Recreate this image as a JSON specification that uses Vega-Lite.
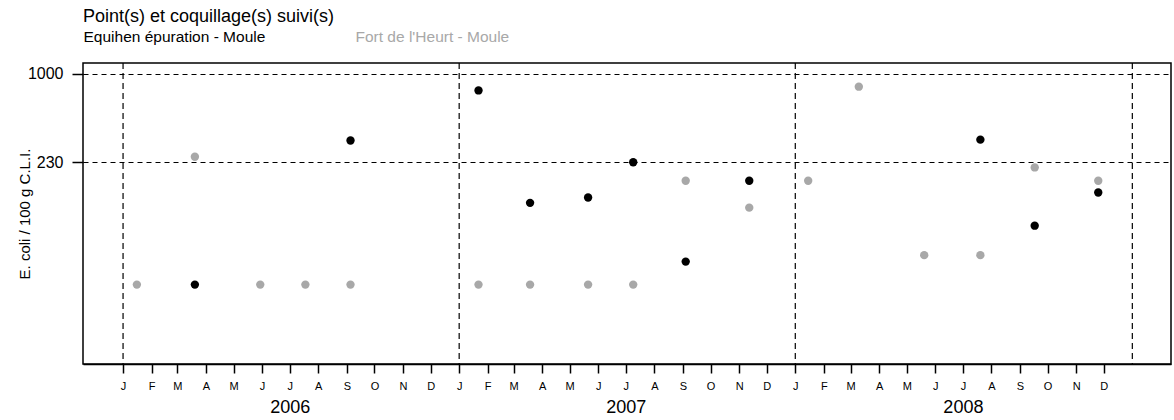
{
  "$schema": "https://vega.github.io/schema/vega-lite/v6.json",
  "width": 1088,
  "height": 301,
  "autosize": "none",
  "padding": {"left": 83, "top": 63, "right": 3, "bottom": 56},
  "background": "white",
  "config": {
    "font": "Liberation Sans",
    "view": {"stroke": "black", "strokeWidth": 1.5}
  },
  "resolve": {"axis": {"x": "independent"}},
  "layer": [
    {
      "data": {"values": [
        {"date": "2006-01-01"}, {"date": "2007-01-01"}, {"date": "2008-01-01"}, {"date": "2009-01-01"}
      ]},
      "mark": {"type": "rule", "color": "black", "strokeDash": [6, 4], "strokeWidth": 1.2},
      "encoding": {
        "x": {
          "field": "date", "type": "temporal",
          "scale": {"type": "utc", "domain": [{"year": 2005, "month": 11, "date": 18, "hours": 12, "utc": true}, {"year": 2009, "month": 2, "date": 12, "utc": true}]},
          "axis": {
            "orient": "bottom",
            "title": null,
            "values": [{"year": 2006, "month": 7, "date": 1, "utc": true}, {"year": 2007, "month": 7, "date": 1, "utc": true}, {"year": 2008, "month": 7, "date": 1, "utc": true}],
            "labelExpr": "utcFormat(datum.value, '%Y')",
            "ticks": false,
            "domain": false,
            "grid": false,
            "labelFontSize": 18,
            "labelColor": "black",
            "labelPadding": 34
          }
        }
      }
    },
    {
      "data": {"values": [
        {"date": "2006-01-16", "value": 30, "series": "Fort de l'Heurt - Moule"},
        {"date": "2006-03-20", "value": 252, "series": "Fort de l'Heurt - Moule"},
        {"date": "2006-05-30", "value": 30, "series": "Fort de l'Heurt - Moule"},
        {"date": "2006-07-18", "value": 30, "series": "Fort de l'Heurt - Moule"},
        {"date": "2006-09-05", "value": 30, "series": "Fort de l'Heurt - Moule"},
        {"date": "2007-01-22", "value": 30, "series": "Fort de l'Heurt - Moule"},
        {"date": "2007-03-19", "value": 30, "series": "Fort de l'Heurt - Moule"},
        {"date": "2007-05-21", "value": 30, "series": "Fort de l'Heurt - Moule"},
        {"date": "2007-07-09", "value": 30, "series": "Fort de l'Heurt - Moule"},
        {"date": "2007-09-04", "value": 169, "series": "Fort de l'Heurt - Moule"},
        {"date": "2007-11-12", "value": 108, "series": "Fort de l'Heurt - Moule"},
        {"date": "2008-01-15", "value": 169, "series": "Fort de l'Heurt - Moule"},
        {"date": "2008-03-10", "value": 809, "series": "Fort de l'Heurt - Moule"},
        {"date": "2008-05-20", "value": 49, "series": "Fort de l'Heurt - Moule"},
        {"date": "2008-07-20", "value": 49, "series": "Fort de l'Heurt - Moule"},
        {"date": "2008-09-17", "value": 211, "series": "Fort de l'Heurt - Moule"},
        {"date": "2008-11-25", "value": 169, "series": "Fort de l'Heurt - Moule"},
        {"date": "2006-03-20", "value": 30, "series": "Equihen épuration - Moule"},
        {"date": "2006-09-05", "value": 330, "series": "Equihen épuration - Moule"},
        {"date": "2007-01-22", "value": 760, "series": "Equihen épuration - Moule"},
        {"date": "2007-03-19", "value": 117, "series": "Equihen épuration - Moule"},
        {"date": "2007-05-21", "value": 128, "series": "Equihen épuration - Moule"},
        {"date": "2007-07-09", "value": 230, "series": "Equihen épuration - Moule"},
        {"date": "2007-09-04", "value": 44, "series": "Equihen épuration - Moule"},
        {"date": "2007-11-12", "value": 169, "series": "Equihen épuration - Moule"},
        {"date": "2008-07-20", "value": 335, "series": "Equihen épuration - Moule"},
        {"date": "2008-09-17", "value": 80, "series": "Equihen épuration - Moule"},
        {"date": "2008-11-25", "value": 139, "series": "Equihen épuration - Moule"}
      ]},
      "mark": {"type": "point", "filled": true, "shape": "circle", "size": 70, "opacity": 1},
      "encoding": {
        "x": {
          "field": "date", "type": "temporal",
          "scale": {"type": "utc", "domain": [{"year": 2005, "month": 11, "date": 18, "hours": 12, "utc": true}, {"year": 2009, "month": 2, "date": 12, "utc": true}]},
          "axis": {
            "orient": "bottom",
            "title": null,
            "values": [
              {"year": 2006, "month": 1, "date": 1, "utc": true}, {"year": 2006, "month": 2, "date": 1, "utc": true}, {"year": 2006, "month": 3, "date": 1, "utc": true}, {"year": 2006, "month": 4, "date": 1, "utc": true}, {"year": 2006, "month": 5, "date": 1, "utc": true}, {"year": 2006, "month": 6, "date": 1, "utc": true}, {"year": 2006, "month": 7, "date": 1, "utc": true}, {"year": 2006, "month": 8, "date": 1, "utc": true}, {"year": 2006, "month": 9, "date": 1, "utc": true}, {"year": 2006, "month": 10, "date": 1, "utc": true}, {"year": 2006, "month": 11, "date": 1, "utc": true}, {"year": 2006, "month": 12, "date": 1, "utc": true},
              {"year": 2007, "month": 1, "date": 1, "utc": true}, {"year": 2007, "month": 2, "date": 1, "utc": true}, {"year": 2007, "month": 3, "date": 1, "utc": true}, {"year": 2007, "month": 4, "date": 1, "utc": true}, {"year": 2007, "month": 5, "date": 1, "utc": true}, {"year": 2007, "month": 6, "date": 1, "utc": true}, {"year": 2007, "month": 7, "date": 1, "utc": true}, {"year": 2007, "month": 8, "date": 1, "utc": true}, {"year": 2007, "month": 9, "date": 1, "utc": true}, {"year": 2007, "month": 10, "date": 1, "utc": true}, {"year": 2007, "month": 11, "date": 1, "utc": true}, {"year": 2007, "month": 12, "date": 1, "utc": true},
              {"year": 2008, "month": 1, "date": 1, "utc": true}, {"year": 2008, "month": 2, "date": 1, "utc": true}, {"year": 2008, "month": 3, "date": 1, "utc": true}, {"year": 2008, "month": 4, "date": 1, "utc": true}, {"year": 2008, "month": 5, "date": 1, "utc": true}, {"year": 2008, "month": 6, "date": 1, "utc": true}, {"year": 2008, "month": 7, "date": 1, "utc": true}, {"year": 2008, "month": 8, "date": 1, "utc": true}, {"year": 2008, "month": 9, "date": 1, "utc": true}, {"year": 2008, "month": 10, "date": 1, "utc": true}, {"year": 2008, "month": 11, "date": 1, "utc": true}, {"year": 2008, "month": 12, "date": 1, "utc": true}
            ],
            "labelExpr": "substring(utcFormat(datum.value, '%b'), 0, 1)",
            "grid": false,
            "domain": true,
            "domainColor": "black",
            "domainWidth": 1.5,
            "ticks": true,
            "tickColor": "black",
            "tickWidth": 1.5,
            "tickSize": 9,
            "labelFontSize": 11,
            "labelColor": "black",
            "labelPadding": 7
          }
        },
        "y": {
          "field": "value", "type": "quantitative",
          "scale": {"type": "log", "domain": [8, 1200], "nice": false},
          "axis": {
            "values": [230, 1000],
            "format": "d",
            "title": "E. coli  / 100 g C.L.I.",
            "titleFontSize": 15,
            "titleFontWeight": "normal",
            "titleColor": "black",
            "titlePadding": -5,
            "grid": true,
            "gridColor": "black",
            "gridDash": [5, 4],
            "gridWidth": 1.2,
            "domain": false,
            "tickColor": "black",
            "tickWidth": 1.5,
            "tickSize": 11,
            "labelFontSize": 16,
            "labelColor": "black",
            "labelPadding": 9
          }
        },
        "color": {
          "field": "series", "type": "nominal",
          "scale": {"domain": ["Equihen épuration - Moule", "Fort de l'Heurt - Moule"], "range": ["#000000", "#a8a8a8"]},
          "legend": {
            "orient": "top",
            "direction": "horizontal",
            "title": "Point(s) et coquillage(s) suivi(s)",
            "titleFontSize": 18,
            "titleFontWeight": "normal",
            "titleColor": "black",
            "titleLimit": 600,
            "titlePadding": 3,
            "labelFontSize": 15.5,
            "labelLimit": 400,
            "symbolSize": 0,
            "symbolOpacity": 0,
            "symbolStrokeWidth": 0,
            "labelOffset": -15,
            "columnPadding": 89,
            "padding": 0,
            "offset": 17,
            "encode": {"labels": {"update": {"fill": {"signal": "indexof(datum.label, 'Fort') >= 0 ? '#a8a8a8' : '#000000'"}}}}
          }
        }
      }
    }
  ]
}
